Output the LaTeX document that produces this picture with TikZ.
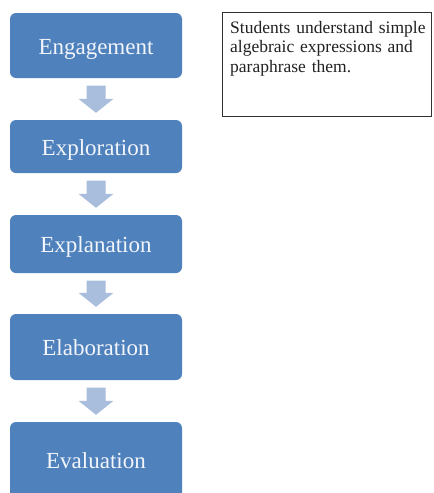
\documentclass[tikz,border=0pt]{standalone}
\usepackage{fontspec}
\setmainfont{Liberation Serif}
\usetikzlibrary{calc}

\definecolor{stepfill}{HTML}{4F81BD}
\definecolor{steptext}{HTML}{F2F5FA}
\definecolor{arrowfill}{HTML}{A9BEDC}
\definecolor{noteline}{HTML}{333333}
\definecolor{notefont}{HTML}{222222}

\tikzset{
  stepbox/.style={rectangle, rounded corners=6pt, fill=stepfill, text=steptext,
    minimum width=172pt, inner sep=0pt, text height=20pt, text depth=3pt,
    font=\fontsize{23}{27}\selectfont},
  notebox/.style={rectangle, draw=noteline, line width=1pt},
  notetext/.style={anchor=north west, inner sep=0pt, align=left, text width=205pt,
    text=notefont, font=\fontsize{17.5}{19.5}\selectfont},
}

% block arrow from the bottom of one step to the top of the next
\newcommand\flowarrow[2]{%
  \fill[arrowfill] let \p1=(#1.south), \p2=(#2.north) in
    (\x1-9.5pt,\y1-7.5pt) -- (\x1+9.5pt,\y1-7.5pt) -- (\x1+9.5pt,\y2+21pt)
    -- (\x1+17.5pt,\y2+21pt) -- (\x1,\y2+7pt) -- (\x1-17.5pt,\y2+21pt)
    -- (\x1-9.5pt,\y2+21pt) -- cycle;}

\begin{document}
\begin{tikzpicture}[x=1pt,y=-1pt]
  \clip (0,0) rectangle (434,493);
  \fill[white] (0,0) rectangle (434,493);

  \node[stepbox, minimum height=65pt] (s1) at (96,45.5) {Engagement};
  \node[stepbox, minimum height=53pt] (s2) at (96,146.5) {Exploration};
  \node[stepbox, minimum height=58pt] (s3) at (96,244) {Explanation};
  \node[stepbox, minimum height=66pt] (s4) at (96,347) {Elaboration};
  \node[stepbox, minimum height=76pt] (s5) at (96,460) {Evaluation};

  \flowarrow{s1}{s2}
  \flowarrow{s2}{s3}
  \flowarrow{s3}{s4}
  \flowarrow{s4}{s5}

  \draw[notebox] (222,12) rectangle (431,116);
  \node[notetext] (note) at (230,21)
    {Students understand simple\\algebraic expressions and\\paraphrase them.};
\end{tikzpicture}
\end{document}
